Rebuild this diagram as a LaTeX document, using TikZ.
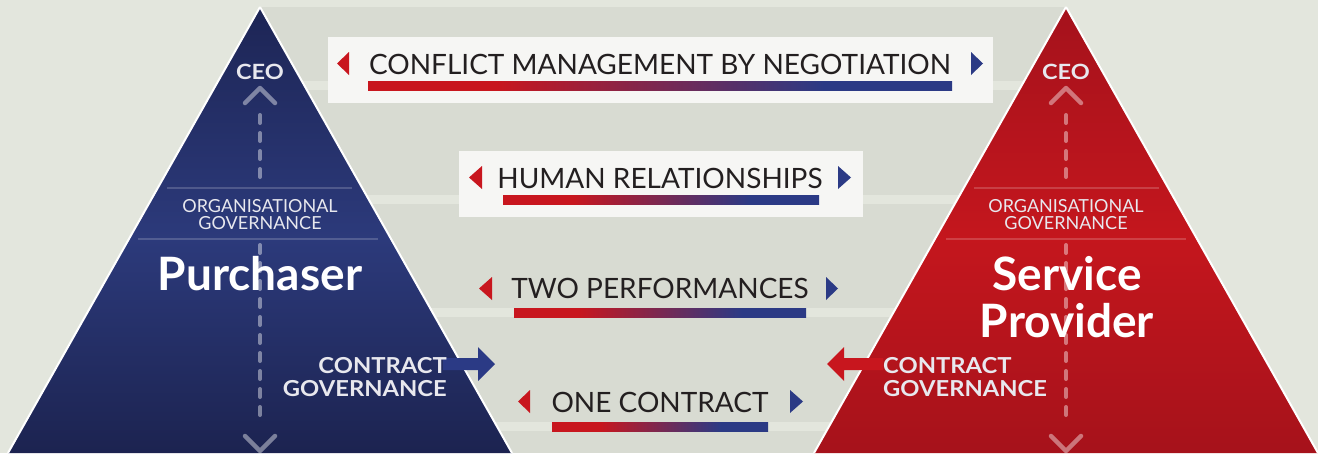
\documentclass[tikz,border=0pt]{standalone}
\usepackage{fontspec}
\setmainfont{Lato}
\definecolor{bgout}{HTML}{E3E6DD}
\definecolor{bgin}{HTML}{D8DBD2}
\definecolor{boxw}{HTML}{F6F6F4}
\definecolor{cred}{HTML}{C8161E}
\definecolor{cblue}{HTML}{2B3A85}
\definecolor{navytop}{HTML}{1D2555}
\definecolor{navymid}{HTML}{2C3A7B}
\definecolor{navybot}{HTML}{1C2350}
\definecolor{redtop}{HTML}{A5121C}
\definecolor{redmid}{HTML}{C4161D}
\definecolor{redbot}{HTML}{A6121B}
\definecolor{txt}{HTML}{231F20}
\definecolor{wtxt}{HTML}{E8E8EE}
\pgfdeclarehorizontalshading{barshade}{100bp}{color(0bp)=(cred); color(25bp)=(cred); color(36bp)=(cred); color(64bp)=(cblue); color(75bp)=(cblue); color(100bp)=(cblue)}
\pgfdeclareverticalshading{navyshade}{100bp}{color(0bp)=(navybot); color(25bp)=(navybot); color(49bp)=(navymid); color(75bp)=(navytop); color(100bp)=(navytop)}
\pgfdeclareverticalshading{redshade}{100bp}{color(0bp)=(redbot); color(25bp)=(redbot); color(49bp)=(redmid); color(75bp)=(redtop); color(100bp)=(redtop)}
\tikzset{
  bartext/.style={inner sep=0pt, anchor=base, text=txt, font=\fontsize{28}{28}\selectfont},
  wtext/.style={inner sep=0pt, text=wtxt},
  ceotext/.style={wtext, anchor=base, xscale=1.12, font=\bfseries\fontsize{21}{21}\selectfont},
  cgtext/.style={wtext, xscale=1.08, font=\bfseries\fontsize{22}{22}\selectfont},
  orgtext/.style={wtext, anchor=base, font=\fontsize{18}{18}\selectfont},
  bigtext/.style={inner sep=0pt, text=white, anchor=base, font=\bfseries\fontsize{46}{46}\selectfont},
  dashline/.style={line width=4pt, white, draw opacity=0.42, dash pattern=on 8pt off 10pt, line cap=round},
  chevron/.style={line width=4.5pt, white, draw opacity=0.42, line cap=round, line join=round},
  faint/.style={line width=1.5pt, white, draw opacity=0.18},
  gbar/.style={shading=barshade},
  lmark/.style={fill=cred},
  rmark/.style={fill=cblue},
  pyr/.style={draw=white, line width=2pt, line join=miter},
}
\begin{document}
\begin{tikzpicture}[x=1pt,y=-1pt]
\useasboundingbox (0,0) rectangle (1318,453);
\clip (0,0) rectangle (1318,453);
% background
\fill[bgout] (0,0) rectangle (1318,453);
\fill[bgin] (260,7) rectangle (1066,453);
\foreach \yy in {81,195,308,422} \fill[bgout] (260,\yy) rectangle (1066,\yy+9);
% pyramids
\path[shading=navyshade] (260,7) -- (512,453) -- (8,453) -- cycle;
\path[shading=redshade] (1066,7) -- (1318,453) -- (814,453) -- cycle;
\draw[pyr] (260,7) -- (512,453) (260,7) -- (8,453);
\draw[pyr] (1066,7) -- (1318,453) (1066,7) -- (814,453);
% faint lines
\draw[faint] (167,188) -- (352,188) (138,239) -- (378,239);
\draw[faint] (974,188) -- (1159,188) (946,239) -- (1186,239);
% boxes
\fill[boxw] (328,37) rectangle (993,103);
\fill[boxw] (459,151) rectangle (863,217);
% texts in boxes and bars
\node[bartext] (t1) at (660,74) {CONFLICT MANAGEMENT BY NEGOTIATION};
\node[bartext] (t2) at (660,188) {HUMAN RELATIONSHIPS};
\node[bartext] (t3) at (660,298) {TWO PERFORMANCES};
\node[bartext] (t4) at (660,412) {ONE CONTRACT};
\fill[gbar] (368,81) rectangle (952,90);
\fill[gbar] (503,195) rectangle (819,204);
\fill[gbar] (514,308) rectangle (806,317);
\fill[gbar] (552,422) rectangle (768,431);
% markers
\fill[lmark] (349,52) -- (337,63.5) -- (349,75) -- cycle;
\fill[rmark] (971,52) -- (983,63.5) -- (971,75) -- cycle;
\fill[lmark] (482,166) -- (469,177.5) -- (482,189) -- cycle;
\fill[rmark] (838,166) -- (851,177.5) -- (838,189) -- cycle;
\fill[lmark] (492,277) -- (479,288.5) -- (492,300) -- cycle;
\fill[rmark] (826,277) -- (838,288.5) -- (826,300) -- cycle;
\fill[lmark] (530,390) -- (518,401.5) -- (530,413) -- cycle;
\fill[rmark] (790,390) -- (803,401.5) -- (790,413) -- cycle;
% dashed axes and chevrons (left)
\draw[dashline] (260,115) -- (260,182);
\draw[dashline] (260,245) -- (260,422);
\draw[chevron] (245,103) -- (260,88) -- (275,103);
\draw[chevron] (245,436) -- (260,451) -- (275,436);
% right
\draw[dashline] (1066,115) -- (1066,182);
\draw[dashline] (1066,245) -- (1066,422);
\draw[chevron] (1051,103) -- (1066,88) -- (1081,103);
\draw[chevron] (1051,436) -- (1066,451) -- (1081,436);
% arrows
\coordinate (aLend) at (495,364);
\coordinate (aRend) at (827,364);
\fill[cblue] (443,358) -- (478,358) -- (478,347) -- (aLend) -- (478,381) -- (478,370) -- (443,370) -- cycle;
\fill[cred] (883,358) -- (844,358) -- (844,347) -- (aRend) -- (844,381) -- (844,370) -- (883,370) -- cycle;
% labels left
\node[ceotext] (ceoL) at (260,79) {CEO};
\node[orgtext] (orgL1) at (260,212) {ORGANISATIONAL};
\node[orgtext] (orgL2) at (260,229) {GOVERNANCE};
\node[bigtext] (pur) at (260,290) {Purchaser};
\node[cgtext, anchor=base east] (cgL1) at (447,373) {CONTRACT};
\node[cgtext, anchor=base east] (cgL2) at (447,396) {GOVERNANCE};
% labels right
\node[ceotext] (ceoR) at (1066,79) {CEO};
\node[orgtext] (orgR1) at (1066,212) {ORGANISATIONAL};
\node[orgtext] (orgR2) at (1066,229) {GOVERNANCE};
\node[bigtext] (sp1) at (1067,290) {Service};
\node[bigtext] (sp2) at (1067,337) {Provider};
\node[cgtext, anchor=base west] (cgR1) at (883,373) {CONTRACT};
\node[cgtext, anchor=base west] (cgR2) at (883,396) {GOVERNANCE};
\end{tikzpicture}
\end{document}
